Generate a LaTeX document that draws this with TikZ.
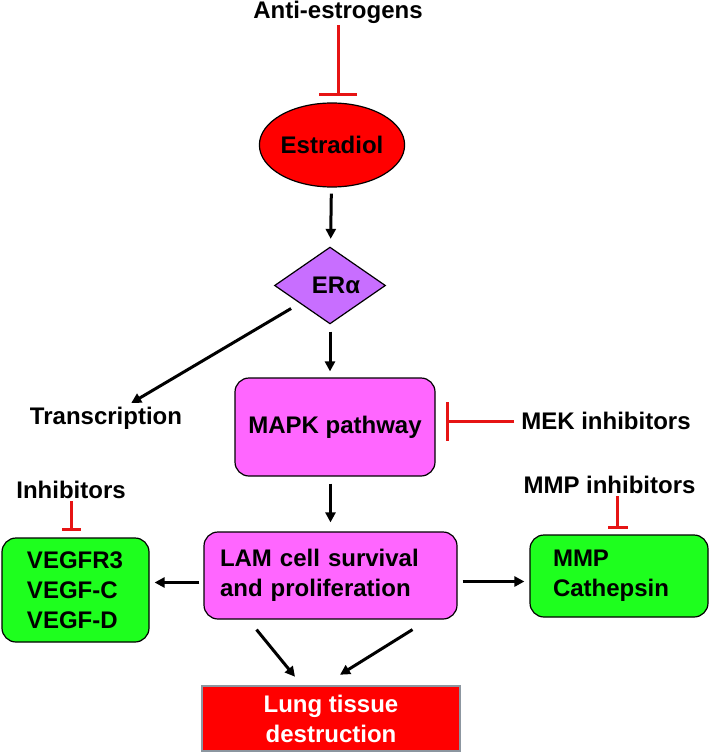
\documentclass[tikz,border=0pt]{standalone}
\usepackage{fontspec}
\setmainfont{Liberation Sans}
\usetikzlibrary{calc,backgrounds,arrows.meta,shapes.geometric}
\definecolor{estrred}{RGB}{255,0,0}
\definecolor{ercol}{RGB}{200,110,255}
\definecolor{pathpink}{RGB}{255,102,255}
\definecolor{vegfgreen}{RGB}{30,255,30}
\definecolor{inhred}{RGB}{230,20,20}
\definecolor{lunggray}{RGB}{140,150,160}

\begin{document}
\begin{tikzpicture}[%
        x=1pt, y=-1pt,%
        show background rectangle,%
        tight background,%
        background rectangle/.style={fill=white}%
    ]
        \tikzset{%
            txt/.style={font=\fontsize{24}{30}\selectfont\bfseries, inner sep=2pt},%
            box/.style={txt, draw=black, line width=1.2pt, rounded corners=14pt},%
            act/.style={-{Triangle[length=10pt,width=10pt]}, line width=3pt, black},%
            inh/.style={-{Bar[width=#1]}, line width=3pt, inhred},%
            inh/.default=38pt%
        }%
        \useasboundingbox (0,0) rectangle (709,754);%

        %
        % Voie principale
        %
        \node[txt] (anti) at (338,12) {Anti-estrogens};%
        \node[ellipse, draw, line width=1.2pt, fill=estrred, txt, inner sep=0pt,%
            minimum width=128pt, minimum height=84pt] (estr) at (332,145) {Estradiol};%
        \node[diamond, draw, line width=1.2pt, fill=ercol, txt, inner sep=0pt,%
            minimum width=111pt, minimum height=75pt] (era) at (330,285.5) {\hspace*{12pt}ERα};%
        \node[txt] (trans) at (106,418) {Transcription};%
        \node[box, fill=pathpink, minimum width=200pt, minimum height=98pt] (mapk) at (335,427) {MAPK pathway};%
        \node[txt] (mek) at (606,421) {MEK inhibitors};%
        \node[box, fill=pathpink, text width=221pt, inner xsep=16pt, minimum height=87pt,%
            align=left] (lam) at (330.5,575.5) {LAM cell survival\\and proliferation};%

        % Cibles laterales
        \node[txt] (inhib) at (71,490) {Inhibitors};%
        \node[box, fill=vegfgreen, text width=97pt, inner xsep=25pt, minimum height=104pt,%
            align=left] (vegf) at (75.5,590) {VEGFR3\\VEGF-C\\VEGF-D};%
        \node[txt] (mmpinh) at (609.5,485) {MMP inhibitors};%
        \node[box, fill=vegfgreen, text width=132pt, inner xsep=23pt, minimum height=82pt,%
            align=left] (mmp) at (619,576) {MMP\\Cathepsin};%

        % Issue
        \node[txt, draw=lunggray, line width=2.5pt, fill=estrred, text=white, align=center,%
            minimum width=258pt, minimum height=65pt] (lung) at (331,718.5) {Lung tissue\\destruction};%

        %
        % Fleches
        %
        \draw[inh, shorten >=6pt] (anti) -- (anti |- estr.north);%
        \draw[act, shorten <=6pt, shorten >=8pt] (estr) -- (era);%
        \draw[act, shorten <=7pt, shorten >=6pt] (era) -- (era |- mapk.north);%
        \draw[act, shorten <=10pt, shorten >=3pt] (era) -- (trans);%
        \draw[act, shorten <=7pt, shorten >=9pt] (lam.north |- mapk.south) -- (lam.north);%
        \draw[inh=39pt, shorten <=5pt, shorten >=10pt] (mek.west) -- (mek.west -| mapk.east);%

        % Inhibitions laterales
        \draw[inh=19pt, shorten >=6pt] (inhib.south) -- (inhib.south |- vegf.north);%
        \draw[inh=20pt, shorten >=5pt] ([xshift=8pt]mmpinh.south) -- ([xshift=8pt]mmpinh.south |- mmp.north);%

        % Sorties de LAM
        \draw[act, shorten <=4pt, shorten >=5pt] ([yshift=-7pt]lam.west) -- ([yshift=-7pt]lam.west -| vegf.east);%
        \draw[act, shorten <=5pt, shorten >=5pt] ([yshift=-6pt]lam.east) -- ([yshift=-6pt]lam.east -| mmp.west);%
        \draw[act] ([xshift=-74pt,yshift=-10pt]lam.south) -- ([xshift=-36pt,yshift=8pt]lung.north);%
        \draw[act] ([xshift=82pt,yshift=-10pt]lam.south) -- ([xshift=9pt,yshift=10pt]lung.north);%
    \end{tikzpicture}
\end{document}
